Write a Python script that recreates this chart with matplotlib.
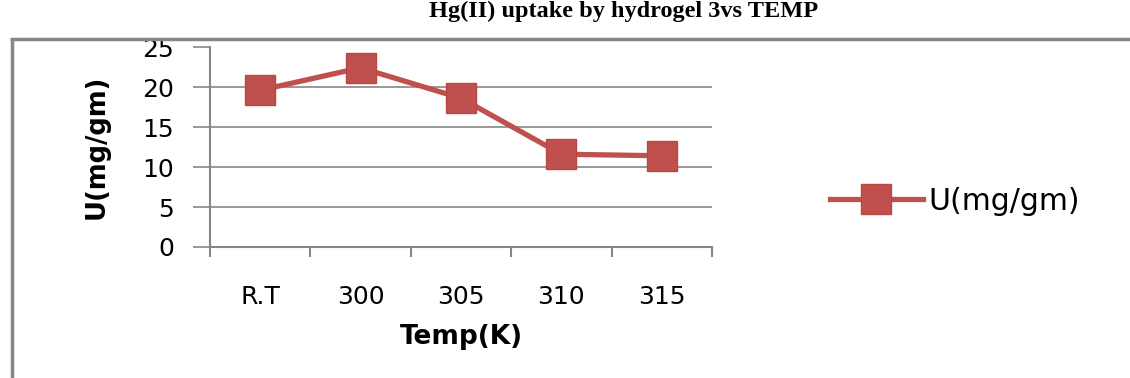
import numpy as np
import matplotlib.pyplot as plt
from matplotlib.lines import Line2D

# data
temps = ["R.T", "300", "305", "310", "315"]
uptake = [19.6, 22.4, 18.6, 11.6, 11.4]

red = "#C0504D"
grey = "#868686"

fig = plt.figure(figsize=(11.3, 3.78), dpi=100)
W, H = 1130, 378
ax = fig.add_axes([210 / W, 1 - 247 / H, (712 - 210) / W, (247 - 47) / H])

x = np.arange(len(temps))
ax.plot(x, uptake, color=red, lw=3.8, marker="s", ms=21,
        mfc=red, mec="#B84744", mew=1, label="U(mg/gm)")

ax.set_xlim(-0.5, len(temps) - 0.5)
ax.set_ylim(0, 25)
ax.set_yticks([0, 5, 10, 15, 20, 25])
for v in [5, 10, 15, 20]:
    ax.axhline(v, color=grey, lw=1.2, zorder=0)

ax.set_xticks(x)
ax.set_xticklabels(temps)
ax.set_xticks(np.arange(-0.5, len(temps)), minor=True)
ax.tick_params(axis="x", which="major", length=0, pad=27, labelsize=18)
ax.tick_params(axis="x", which="minor", length=7, width=1.5, color=grey, direction="out")
ax.tick_params(axis="y", length=12, width=1.2, color=grey, pad=14, labelsize=18)

for s in ["top", "right"]:
    ax.spines[s].set_visible(False)
ax.spines["left"].set_color(grey)
ax.spines["left"].set_linewidth(1.5)
ax.spines["bottom"].set_color(grey)
ax.spines["bottom"].set_linewidth(1.5)

ax.set_xlabel("Temp(K)", fontsize=19, fontweight="bold", labelpad=11)
ax.set_ylabel("U(mg/gm)", fontsize=18.5, fontweight="bold", labelpad=23)

ax.legend(loc="center left", bbox_to_anchor=(830 / W, 1 - 201 / H),
          bbox_transform=fig.transFigure, frameon=False, fontsize=21.5,
          handlelength=3.1, handletextpad=0.2, borderaxespad=0, borderpad=0)

# title, sitting right at the top edge
fig.text(0.552, 0.998, "Hg(II) uptake by hydrogel 3vs TEMP", ha="center", va="top",
         fontsize=17.5, fontweight="bold", family="Liberation Serif")

# outer chart frame (left and top only visible)
fig.add_artist(Line2D([11.5 / W, 11.5 / W], [0, 1 - 39.5 / H], color=grey, lw=2.5,
                      solid_capstyle="butt", transform=fig.transFigure))
fig.add_artist(Line2D([10.2 / W, 1], [1 - 39 / H, 1 - 39 / H], color=grey, lw=2.5,
                      solid_capstyle="butt", transform=fig.transFigure))

fig.savefig("out.png", dpi=100)
